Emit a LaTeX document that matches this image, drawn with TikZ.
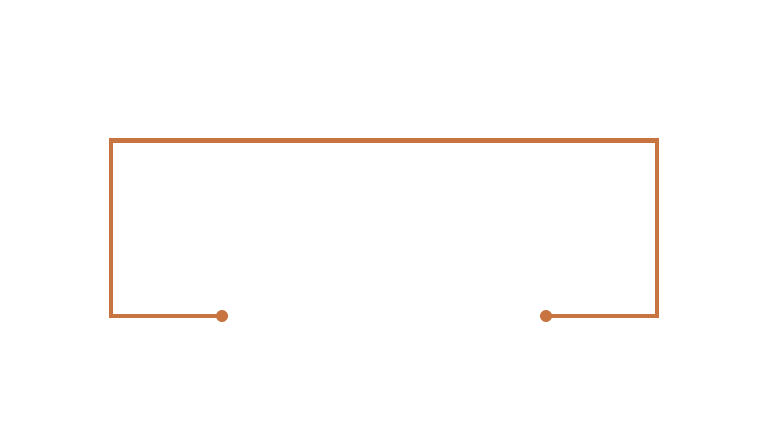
\documentclass[tikz,border=0pt]{standalone}
\usetikzlibrary{positioning}
\definecolor{wireorange}{HTML}{C87441}

\begin{document}
\begin{tikzpicture}
    [
    x=0.75pt, y=-0.75pt,
    wire/.style={
        draw=wireorange,
        line width=3.6pt,
        line join=miter
    },
    terminal/.style={
        circle,
        fill=wireorange,
        inner sep=0pt,
        minimum size=9pt
    },
    ]

    \useasboundingbox (0,0) rectangle (768,432);

    \node[terminal] (left) at (222,316) {};
    \node[terminal] (right) at (546,316) {};
    \coordinate (topleft) at (111,140.5);
    \coordinate (topright) at (657,140.5);

    \draw [wire] (left.center) -| (topleft) -- (topright) |- (right.center);

\end{tikzpicture}
\end{document}
